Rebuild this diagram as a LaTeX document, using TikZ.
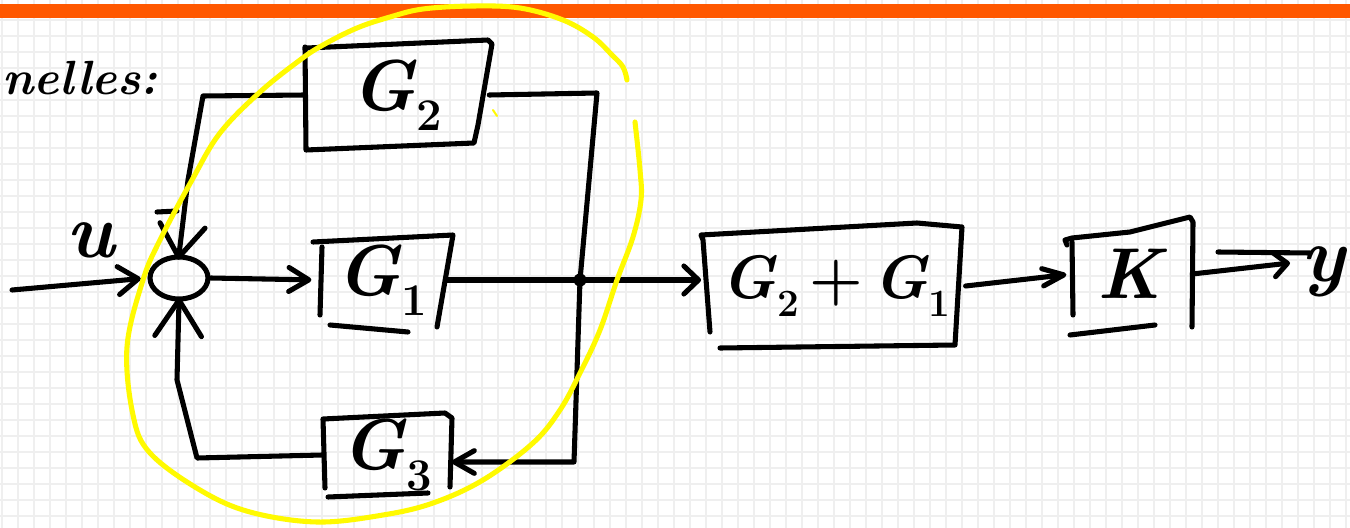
\documentclass[tikz,border=0pt]{standalone}
\usetikzlibrary{arrows.meta,shapes.geometric}
\definecolor{gridc}{RGB}{239,239,239}
\definecolor{barc}{RGB}{255,88,0}
\definecolor{hl}{RGB}{255,250,0}
% block name with a lowered index, set as text
\newcommand{\blkidx}[2]{\textit{#1}\raisebox{-0.28em}{\fontsize{0.63em}{0.7em}\selectfont #2}}
\begin{document}
\begin{tikzpicture}[x=0.75pt,y=-0.75pt,
  gridline/.style={draw=gridc,line width=1.5pt},
  ink/.style={draw=black,line width=3.8pt,line cap=round,line join=round},
  hilite/.style={draw=hl,line width=3.8pt,line cap=round,line join=round},
  hand/.style={inner sep=0pt,font=\fontsize{54}{60}\selectfont\bfseries},
  blk/.style={hand,draw=none},
  dot/.style={fill=black}]
\useasboundingbox (0,0) rectangle (1350,528);
\clip (0,0) rectangle (1350,528);
% squared paper
\fill[white] (0,0) rectangle (1350,528);
\foreach \i in {0,...,84} \draw[gridline] ({2+16*\i},0) -- ({2+16*\i},528);
\foreach \j in {1,...,32} \draw[gridline] (0,{4+16*\j}) -- (1350,{4+16*\j});
\fill[barc] (0,4) rectangle (1350,18);

% heading fragment
\node[hand,anchor=base west,font=\fontsize{36}{44}\selectfont\bfseries] (title) at (2,95) {\itshape nelles:};

% blocks (text and size); their outlines are sketched below
\node[blk,minimum width=138pt,minimum height=75pt] (g2) at (397,95) {\blkidx{G}{2}};
\node[blk,minimum width=97.5pt,minimum height=67.5pt] (g1) at (382,280) {\blkidx{G}{1}};
\node[blk,minimum width=96.75pt,minimum height=56pt] (g3) at (387,455) {\blkidx{G}{3}};
\node[blk,minimum width=194pt,minimum height=90pt,font=\fontsize{46}{52}\selectfont\bfseries] (g21) at (836,286) {\blkidx{G}{2}\,+\,\blkidx{G}{1}};
\node[blk,minimum width=90pt,minimum height=82pt] (k) at (1132,274) {\textit{K}};

% summing point
\node[ellipse,ink,minimum width=43.5pt,minimum height=31.5pt,inner sep=0pt] (sum) at (179,278) {};
\draw[ink] (157,212) -- (177,211);

% block outlines
\draw[ink] (305,47) -- (306,150) -- (474,143) -- (478,125) -- (492,44) -- (488,40) -- (307,48);
\draw[ink] (313,242) -- (453,235) -- (437,327);
\draw[ink] (322,247) -- (320,315);
\draw[ink] (330,325) -- (408,332);
\draw[ink] (325,488) -- (323,419) -- (445,413) -- (452,418) -- (450,487);
\draw[ink] (328,497) -- (428,493);
\draw[ink] (710,332) -- (703,240) -- (701,235) -- (917,223) -- (962,227) -- (955,345) -- (720,348);
\draw[ink] (1067,245) -- (1065,240) -- (1072,238) -- (1130,232) -- (1190,217) -- (1193,222) -- (1192,327);
\draw[ink] (1072,242) -- (1073,315);
\draw[ink] (1070,335) -- (1155,325);

% labels of the signals
\node[hand,font=\fontsize{58}{62}\selectfont\bfseries] (ulab) at (92,240) {\textit{u}};
\node[hand,font=\fontsize{58}{62}\selectfont\bfseries] (ylab) at (1324,272) {\textit{y}};

% connection points
\coordinate (uin) at (12,290);
\coordinate (g2L) at (203,96);
\coordinate (g2D) at (188,180);
\coordinate (g2R) at (597,93);
\coordinate (jn) at (580,280);
\coordinate (fbR) at (574,462);
\coordinate (g3L) at (197,458);
\coordinate (g3U) at (177,380);
\coordinate (yout) at (1290,263);

% signal flow
\draw[ink,-{Straight Barb[length=15pt,width=21pt,round]},shorten >=5pt] (uin) -- (sum.west);
\draw[ink,-{Straight Barb[length=15pt,width=18pt,round]},shorten >=4pt] (sum.east) -- (g1.west);
\draw[ink] (g1.east) -- (jn);
\draw[ink,-{Straight Barb[length=11pt,width=21pt,round]},shorten >=4pt] (jn) -- (jn -| g21.west);
\draw[ink,-{Straight Barb[length=16pt,width=13pt,round]},shorten >=4pt] (g21.east) -- (k.west);
\draw[ink,-{Straight Barb[length=10pt,width=18pt,round]}] (k.east) -- (yout);
\draw[ink] (1218,252) -- (1310,253);

% parallel branch through G2
\draw[ink,-{Straight Barb[length=24pt,width=34pt,round]},shorten >=-4pt] (g2.west) -- (g2L) -- (g2D) -- (sum.north);
\draw[ink] (g2.east) -- (g2R) -- (jn);
\fill[dot] (jn) circle (6.5);

% feedback branch through G3
\draw[ink,-{Straight Barb[length=15pt,width=17pt,round]}] (jn) -- (fbR) -- (fbR -| g3.east);
\draw[ink,-{Straight Barb[length=27pt,width=35pt,round]},shorten >=-3pt] (g3.west) -- (g3L) -- (g3U) -- (sum.south);

% highlighter loop
\draw[hilite] plot[smooth,tension=0.6] coordinates {
  (635,122) (640,170) (641,200) (633,237) (617,280) (600,330) (580,373)
  (560,410) (533,443) (483,480) (433,503) (383,515) (317,522) (250,512)
  (200,490) (150,453) (133,415) (127,347) (143,280) (160,240) (192,180)
  (220,133) (260,92) (300,60) (323,45) (357,28) (390,17) (423,9)
  (473,6) (520,8) (563,20) (593,37) (612,55) (623,67) (627,80)};
\draw[hl,line width=1.5pt,line cap=round] (493,110) -- (497,116);
\end{tikzpicture}
\end{document}
